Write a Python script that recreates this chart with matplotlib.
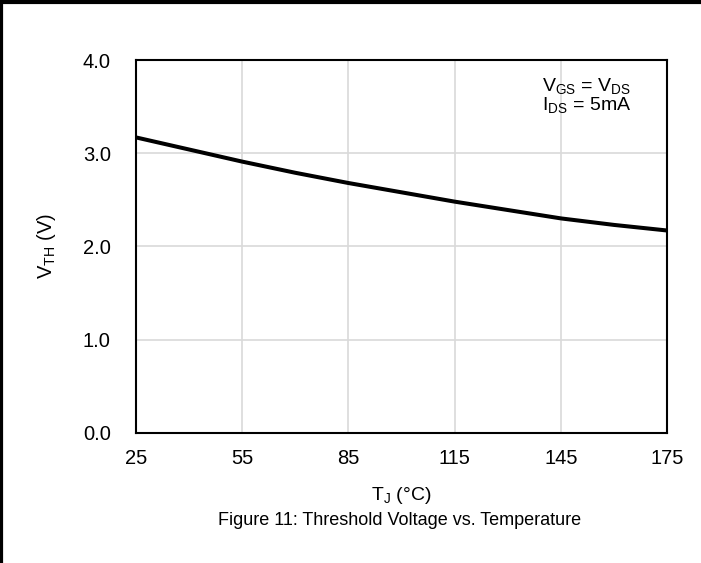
import matplotlib
matplotlib.use("Agg")
import matplotlib.pyplot as plt
import numpy as np

plt.rcParams['font.family'] = ['Liberation Sans', 'DejaVu Sans']
plt.rcParams['mathtext.fontset'] = 'custom'
plt.rcParams['mathtext.rm'] = 'Liberation Sans'
plt.rcParams['mathtext.it'] = 'Liberation Sans'

# threshold voltage vs junction temperature
temp = np.array([25, 40, 55, 70, 85, 100, 115, 130, 145, 160, 175])
vth = np.array([3.17, 3.04, 2.91, 2.79, 2.68, 2.58, 2.48, 2.39, 2.30, 2.23, 2.17])
xticks = [25, 55, 85, 115, 145, 175]
yticks = [0.0, 1.0, 2.0, 3.0, 4.0]

fig = plt.figure(figsize=(7.01, 5.63), dpi=100)
ax = fig.add_axes([0.1936, 0.2314, 0.7584, 0.662])

ax.plot(temp, vth, color='black', lw=2.9, solid_capstyle='butt')
ax.set_xlim(25, 175)
ax.set_ylim(0, 4)
ax.set_xticks(xticks)
ax.set_yticks(yticks)
ax.set_yticklabels(['%.1f' % v for v in yticks])
ax.grid(color='#d9d9d9', lw=1.2)
ax.set_axisbelow(True)
ax.tick_params(length=0, labelsize=14.5)
ax.tick_params(axis='y', pad=18)
ax.tick_params(axis='x', pad=12)
for s in ax.spines.values():
    s.set_linewidth(1.5)

ax.set_ylabel(r'V$_{\mathrm{TH}}$ (V)', fontsize=14.5, va='center')
ax.yaxis.set_label_coords(-0.168, 0.5)
ax.set_xlabel(r'T$_{\mathrm{J}}$ (°C)', fontsize=14, labelpad=12)

ax.text(0.765, 0.957, r'V$_{\mathrm{GS}}$ = V$_{\mathrm{DS}}$' + '\n' + r'I$_{\mathrm{DS}}$ = 5mA',
        transform=ax.transAxes, fontsize=14, va='top', ha='left', linespacing=0.95)

fig.text(0.5706, 0.075, 'Figure 11: Threshold Voltage vs. Temperature', fontsize=13,
         ha='center', va='center')

# page frame (top and left edges)
fig.add_artist(plt.Line2D([0, 1], [0.9964, 0.9964], transform=fig.transFigure, color='black', lw=3))
fig.add_artist(plt.Line2D([0.002, 0.002], [0, 1], transform=fig.transFigure, color='black', lw=2.3))

fig.savefig('out.png', dpi=100)
